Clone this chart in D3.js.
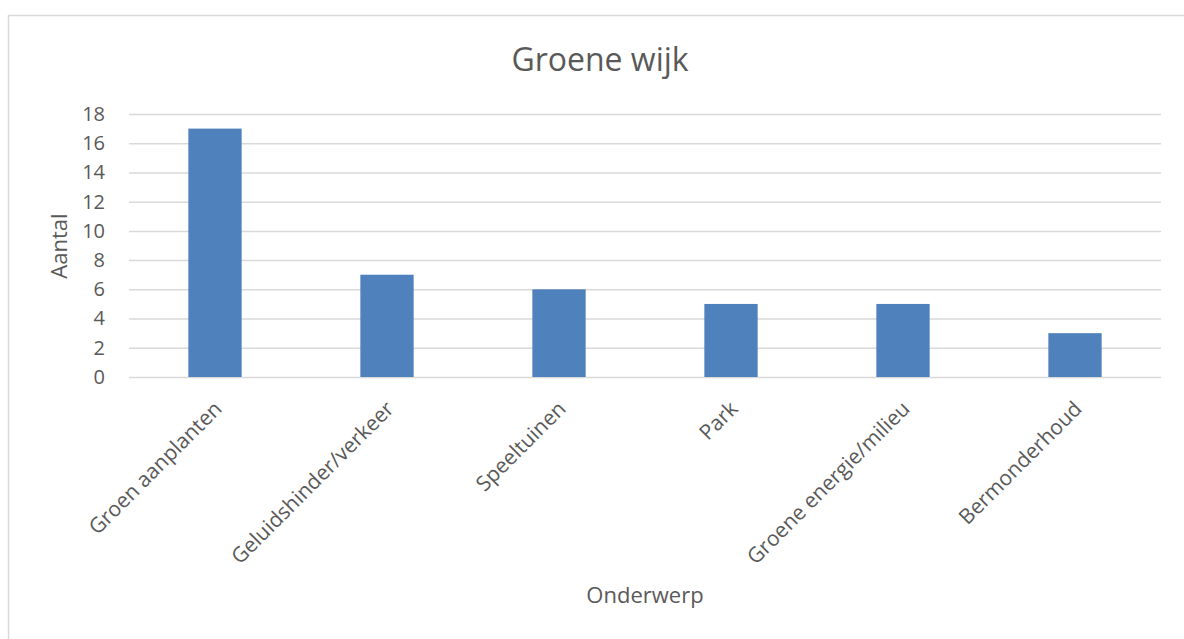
<!DOCTYPE html>
<html>
<head>
<meta charset="utf-8">
<script src="https://cdn.jsdelivr.net/npm/d3@7"></script>
<style>
  body { margin: 0; background: #fff; }
  svg text { font-family: "Open Sans", sans-serif; fill: #595959; }
</style>
</head>
<body>
<div id="chart"></div>
<script>
let categories = ['Groen aanplanten', 'Geluidshinder/verkeer', 'Speeltuinen', 'Park', 'Groene energie/milieu', 'Bermonderhoud']
let counts = [17, 7, 6, 5, 5, 3]
let yTicks = [0, 2, 4, 6, 8, 10, 12, 14, 16, 18]

let width = 1184
let height = 639
let plot = {left: 129, right: 1161, top: 114, bottom: 377}

let svg = d3.select('#chart')
  .append('svg')
    .attr('width', width)
    .attr('height', height)

// chart frame
svg.append('rect')
  .attr('x', 8.5).attr('y', 15.5)
  .attr('width', 1300).attr('height', 800)
  .attr('fill', 'none')
  .attr('stroke', '#d9d9d9')
  .attr('stroke-width', 1.5)

let x = d3.scaleBand().domain(categories).range([plot.left, plot.right]).paddingInner(0.69).paddingOuter(0.345)
let y = d3.scaleLinear().domain([0, 18]).range([plot.bottom, plot.top])

// gridlines + y labels
let yAxis = svg.append('g')
  .attr('transform', `translate(${plot.left},0)`)
  .call(d3.axisLeft(y).tickValues(yTicks).tickSize(-(plot.right - plot.left)).tickPadding(24))
yAxis.select('.domain').remove()
yAxis.selectAll('.tick line').attr('stroke', '#d9d9d9').attr('stroke-width', 1.5)
yAxis.selectAll('.tick text')
  .attr('font-size', 20)
  .attr('font-family', '"Open Sans", sans-serif')
  .attr('fill', '#595959')

// bars
svg.append('g').selectAll('rect')
  .data(counts)
  .join('rect')
    .attr('x', (d, i) => x(categories[i]))
    .attr('y', d => y(d))
    .attr('width', x.bandwidth())
    .attr('height', d => y(0) - y(d))
    .attr('fill', '#4f81bd')

// category labels
let xAxis = svg.append('g')
  .attr('transform', `translate(0,${plot.bottom})`)
  .call(d3.axisBottom(x).tickSize(0).tickFormat(d => d))
xAxis.select('.domain').remove()
xAxis.selectAll('.tick text')
  .attr('font-size', 21)
  .attr('font-family', '"Open Sans", sans-serif')
  .attr('fill', '#595959')
  .attr('text-anchor', 'end')
  .attr('x', 0).attr('y', 0)
  .attr('dy', '0.75em')
  .attr('transform', 'translate(-3,22) rotate(-45)')

// titles
svg.append('text')
  .attr('x', 600).attr('y', 71)
  .attr('text-anchor', 'middle')
  .attr('font-size', 32)
  .text('Groene wijk')

svg.append('text')
  .attr('x', 645).attr('y', 603)
  .attr('text-anchor', 'middle')
  .attr('font-size', 22)
  .text('Onderwerp')

svg.append('text')
  .attr('transform', 'translate(67,246) rotate(-90)')
  .attr('text-anchor', 'middle')
  .attr('font-size', 22)
  .text('Aantal')
</script>
</body>
</html>
